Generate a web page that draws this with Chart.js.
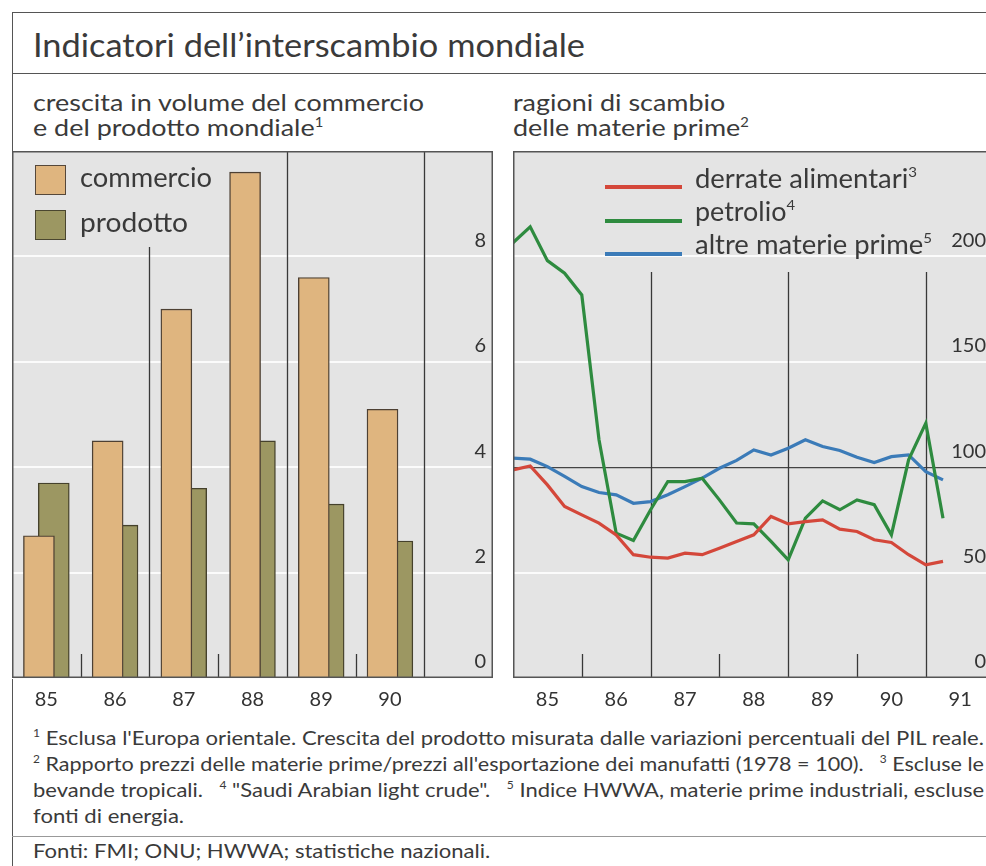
<!DOCTYPE html>
<html><head><meta charset="utf-8">
<script src="https://cdn.jsdelivr.net/npm/chart.js@4.4.1/dist/chart.umd.min.js"></script>
<style>
html,body{margin:0;padding:0;background:#fff;overflow:hidden;width:986px;height:866px;}
body{position:relative;font-family:Lato,"Open Sans",sans-serif;color:#3a3a3a;}
.abs{position:absolute;white-space:nowrap;}
.fit{transform-origin:0 0;}
.hline{position:absolute;height:0;border-top:1.5px solid #555;}
.vline{position:absolute;width:0;border-left:1.5px solid #555;}
sup{font-size:55%;vertical-align:0;position:relative;top:-0.75em;line-height:0;}
canvas{position:absolute;}
.sq{position:absolute;width:29px;height:28px;border:1.5px solid #55473a;}
.sw{position:absolute;width:77px;height:3.5px;}
.lg{font-size:26px;line-height:30px;}
.fn{font-size:20px;line-height:26px;}
</style></head><body>
<div class="hline" style="left:12px;top:12px;width:980px"></div>
<div class="vline" style="left:12px;top:12px;height:860px"></div>
<div class="hline" style="left:12px;top:73px;width:980px"></div>
<div class="hline" style="left:12px;top:836px;width:980px;border-top:1px solid #999"></div>

<div class="abs fit" data-w="552" style="left:33px;top:27px;font-size:32px;line-height:36px;">Indicatori dell’interscambio mondiale</div>

<div class="abs fit" id="sub1" data-w="391" style="left:33px;top:90px;font-size:23px;line-height:25px;">crescita in volume del commercio<br>e del prodotto mondiale<sup>1</sup></div>
<div class="abs fit" data-same="sub1" style="left:513px;top:90px;font-size:23px;line-height:25px;">ragioni di scambio<br>delle materie prime<sup>2</sup></div>

<canvas id="c1" width="481" height="561" style="left:12px;top:151px"></canvas>
<canvas id="c2" width="477" height="561" style="left:513px;top:151px"></canvas>

<div class="sq" style="left:35px;top:165px;background:#dfb57f"></div>
<div class="abs fit lg" data-w="132" style="left:80px;top:162px;">commercio</div>
<div class="sq" style="left:35px;top:210px;background:#9c9762;border-color:#4a4630"></div>
<div class="abs fit lg" data-w="108" style="left:80px;top:207px;">prodotto</div>

<div class="sw" style="left:605px;top:185px;background:#d4473a"></div>
<div class="abs fit lg" data-w="222" style="left:695px;top:163px;">derrate alimentari<sup>3</sup></div>
<div class="sw" style="left:605px;top:219px;background:#2e8b3f"></div>
<div class="abs fit lg" data-w="100" style="left:695px;top:196px;">petrolio<sup>4</sup></div>
<div class="sw" style="left:605px;top:252px;background:#3b7bb8"></div>
<div class="abs fit lg" data-w="237" style="left:695px;top:229px;">altre materie prime<sup>5</sup></div>

<div class="abs fit fn" id="fn1" data-w="951" style="left:33px;top:724px;"><sup>1</sup> Esclusa l'Europa orientale. Crescita del prodotto misurata dalle variazioni percentuali del PIL reale.</div>
<div class="abs fit fn" data-w="951" style="left:33px;top:750px;"><sup>2</sup> Rapporto prezzi delle materie prime/prezzi all'esportazione dei manufatti (1978 = 100).&emsp;<sup>3</sup> Escluse le</div>
<div class="abs fit fn" data-w="951" style="left:33px;top:776px;">bevande tropicali.&emsp;<sup>4</sup> "Saudi Arabian light crude".&emsp;<sup>5</sup> Indice HWWA, materie prime industriali, escluse</div>
<div class="abs fit fn" data-same="fn1" style="left:33px;top:802px;">fonti di energia.</div>
<div class="abs fit fn" data-same="fn1" style="left:33px;top:837px;">Fonti: FMI; ONU; HWWA; statistiche nazionali.</div>

<script>
// ---------- DATA ----------
const barYears = ['85', '86', '87', '88', '89', '90'];
const commercio = [2.7, 4.5, 7.0, 9.6, 7.6, 5.1];
const prodotto  = [3.7, 2.9, 3.6, 4.5, 3.3, 2.6];
const barYTicks = [0, 2, 4, 6, 8];

const lineYears = ['85', '86', '87', '88', '89', '90', '91'];
const quarters = ['85Q1','85Q2','85Q3','85Q4','86Q1','86Q2','86Q3','86Q4',
                  '87Q1','87Q2','87Q3','87Q4','88Q1','88Q2','88Q3','88Q4',
                  '89Q1','89Q2','89Q3','89Q4','90Q1','90Q2','90Q3','90Q4',
                  '91Q1','91Q2'];
const derrate  = [98.7,100.6,91.6,81.4,77.4,73.5,67.9,58.5,57.3,56.9,59.2,58.5,61.6,64.8,
                  67.9,76.6,73.1,74.2,75.0,70.6,69.5,65.6,64.3,58.5,53.7,55.3];
const petrolio = [206.5,214.0,198.0,192.0,181.7,113.0,68.7,65.2,79.8,93.2,93.2,94.8,84.5,73.5,
                  73.1,64.8,56.1,75.8,84.0,79.8,84.5,82.2,67.9,103.5,120.9,75.8];
const altre    = [104.3,103.8,100.3,95.6,90.8,88.0,86.9,82.9,83.7,86.9,90.8,94.8,99.5,103.2,
                  108.2,105.8,109.0,113.0,109.8,107.9,104.7,102.2,105.0,105.8,97.9,94.0];
const lineYTicks = [0, 50, 100, 150, 200];

// ---------- text fitting ----------
const scales = {};
document.querySelectorAll('.fit[data-w]').forEach(el => {
  const w = el.getBoundingClientRect().width;
  const s = (+el.dataset.w) / w;
  if (el.id) scales[el.id] = s;
  el.style.transform = 'scaleX(' + s + ')';
});
document.querySelectorAll('.fit[data-same]').forEach(el => {
  el.style.transform = 'scaleX(' + scales[el.dataset.same] + ')';
});

// ---------- plugin: plot background, separators, frame ----------
const boxPlugin = {
  id: 'box',
  beforeDraw(chart, args, o) {
    const {ctx, chartArea: a} = chart;
    ctx.save();
    ctx.fillStyle = o.bg;
    ctx.fillRect(a.left, a.top, a.right - a.left, a.bottom - a.top);
    ctx.restore();
  },
  beforeDatasetsDraw(chart, args, o) {
    const {ctx, chartArea: a} = chart;
    const xs = chart.scales.x;
    ctx.save();
    ctx.strokeStyle = '#383838';
    ctx.lineWidth = 1.3;
    o.marks.forEach(m => {
      const px = Math.round(xs.getPixelForValue(m.at)) + 0.5;
      const top = m.short ? a.bottom - 24 : a.top + (m.from || 0);
      ctx.beginPath(); ctx.moveTo(px, top); ctx.lineTo(px, a.bottom); ctx.stroke();
    });
    ctx.restore();
  },
  afterDraw(chart, args, o) {
    const {ctx, chartArea: a} = chart;
    ctx.save();
    ctx.strokeStyle = '#555';
    ctx.lineWidth = 1.5;
    ctx.strokeRect(a.left + 0.75, a.top + 0.75, a.right - a.left - 1.5, a.bottom - a.top - 1.5);
    ctx.restore();
  }
};

const tickFont = {family: 'Lato', size: 20};
const tickColor = '#333';
const noPad = s => { s.paddingTop = 0; s.paddingBottom = 0; s.paddingLeft = 0; s.paddingRight = 0; };

// ---------- left: bars ----------
const SHIFT = 0.108;
new Chart(document.getElementById('c1'), {
  type: 'bar',
  data: {
    datasets: [
      {label: 'commercio', data: barYears.map((y, i) => ({x: i - SHIFT, y: commercio[i]})),
       backgroundColor: '#dfb57f', borderColor: '#4d4033', borderWidth: 1.4, borderSkipped: 'bottom',
       barThickness: 31, grouped: false},
      {label: 'prodotto', data: barYears.map((y, i) => ({x: i + SHIFT, y: prodotto[i]})),
       backgroundColor: '#9c9762', borderColor: '#45412c', borderWidth: 1.4, borderSkipped: 'bottom',
       barThickness: 31, grouped: false}
    ]
  },
  options: {
    responsive: false, animation: false, devicePixelRatio: 1,
    layout: {padding: 0},
    plugins: {
      legend: {display: false}, tooltip: {enabled: false},
      box: {bg: '#e4e4e4', marks: [
        {at: 0.5, short: true}, {at: 1.5, from: 96}, {at: 2.5, short: true},
        {at: 3.5}, {at: 4.5, short: true}, {at: 5.5}]}
    },
    scales: {
      x: {type: 'linear', min: -0.5, max: 6.5, offset: false,
          grid: {display: false}, border: {display: false},
          afterBuildTicks: s => { s.ticks = barYears.map((y, i) => ({value: i})); },
          ticks: {callback: (v, i) => barYears[i], font: tickFont, color: tickColor, padding: 2,
                  maxRotation: 0, autoSkip: false},
          afterFit: s => { s.height = 34; noPad(s); }},
      y: {position: 'right', min: 0, max: 10,
          grid: {color: '#fbfbfb', lineWidth: 2, drawTicks: false}, border: {display: false},
          afterBuildTicks: s => { s.ticks = barYTicks.map(v => ({value: v})); },
          ticks: {mirror: true, padding: -7, labelOffset: -16, font: tickFont, color: tickColor},
          afterFit: s => { s.width = 0; noPad(s); }}
    }
  },
  plugins: [boxPlugin]
});

// ---------- right: lines ----------
const qx = q => +q.slice(0, 2) + (+q.slice(3) - 1) / 4;
const mk = (label, vals, color) => ({
  label, data: quarters.map((q, i) => ({x: qx(q), y: vals[i]})),
  borderColor: color, borderWidth: 3.2, pointRadius: 0, tension: 0, fill: false,
  borderJoinStyle: 'miter'
});
new Chart(document.getElementById('c2'), {
  type: 'line',
  data: {datasets: [
    mk('derrate alimentari', derrate, '#d4473a'),
    mk('petrolio', petrolio, '#2e8b3f'),
    mk('altre materie prime', altre, '#3b7bb8')
  ]},
  options: {
    responsive: false, animation: false, devicePixelRatio: 1,
    layout: {padding: 0},
    plugins: {
      legend: {display: false}, tooltip: {enabled: false},
      box: {bg: '#e4e4e4', marks: [
        {at: 86, short: true}, {at: 87, from: 121}, {at: 88, short: true},
        {at: 89, from: 121}, {at: 90, short: true}, {at: 91, from: 121}]}
    },
    scales: {
      x: {type: 'linear', min: 85, max: 85 + 477 / 68.8,
          grid: {display: false}, border: {display: false},
          afterBuildTicks: s => { s.ticks = lineYears.map(y => ({value: +y + 0.5})); },
          ticks: {callback: (v, i) => lineYears[i], font: tickFont, color: tickColor, padding: 2,
                  maxRotation: 0, autoSkip: false},
          afterFit: s => { s.height = 34; noPad(s); }},
      y: {position: 'right', min: 0, max: 250,
          grid: {color: c => c.tick.value === 100 ? '#444' : '#fbfbfb',
                 lineWidth: c => c.tick.value === 100 ? 1.3 : 2, drawTicks: false},
          border: {display: false},
          afterBuildTicks: s => { s.ticks = lineYTicks.map(v => ({value: v})); },
          ticks: {mirror: true, padding: -4, labelOffset: -16, font: tickFont, color: tickColor},
          afterFit: s => { s.width = 0; noPad(s); }}
    }
  },
  plugins: [boxPlugin]
});
</script>
</body></html>
